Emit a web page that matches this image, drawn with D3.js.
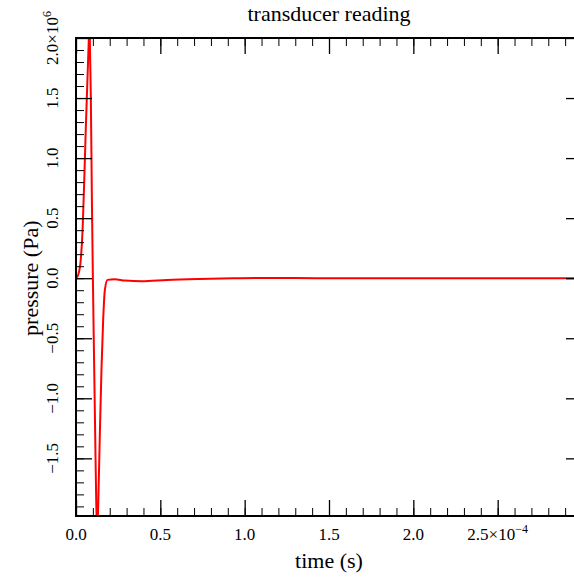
<!DOCTYPE html>
<html>
<head>
<meta charset="utf-8">
<script src="https://cdn.jsdelivr.net/npm/d3@7"></script>
<style>
  html, body { margin: 0; padding: 0; background: #fff; overflow: hidden; }
  svg { display: block; font-family: "Liberation Serif", "Times New Roman", serif; }
</style>
</head>
<body>
<div id="chart"></div>
<script>
// transducer trace, time in s, pressure in Pa
var times = [0, 1.3e-6, 2.8e-6, 3.9e-6, 4.9e-6, 5.8e-6, 6.8e-6, 7.6e-6, 7.9e-6, 8.2e-6, 8.8e-6, 9.4e-6,
             1.00e-5, 1.08e-5, 1.14e-5, 1.20e-5, 1.26e-5, 1.32e-5, 1.41e-5, 1.51e-5, 1.61e-5, 1.71e-5,
             1.87e-5, 2.3e-5, 2.9e-5, 3.9e-5, 5.4e-5, 7.3e-5, 9.3e-5, 1.1e-4, 1.3e-4, 1.52e-4, 2.0e-4, 2.5e-4, 3.0e-4];
var pressures = [0, 0.028e6, 0.15e6, 0.40e6, 0.82e6, 1.24e6, 1.66e6, 1.99e6, 2.12e6, 1.99e6, 1.51e6, 0.68e6,
                 0.01e6, -0.76e6, -1.32e6, -1.87e6, -2.1e6, -1.87e6, -1.32e6, -0.76e6, -0.35e6, -0.10e6,
                 -0.014e6, -0.008e6, -0.02e6, -0.025e6, -0.014e6, -0.006e6, -0.001e6, 0.002e6, 0.001e6, 0, 0, 0, 0];

var xDomain = [0, 3e-4];
var yDomain = [-1.98e6, 2.0e6];
var xMajorTicks = [0, 0.5e-4, 1.0e-4, 1.5e-4, 2.0e-4, 2.5e-4, 3.0e-4];
var xTickLabels = ["0.0", "0.5", "1.0", "1.5", "2.0", "2.5", ""];
var yMajorTicks = [-1.5e6, -1.0e6, -0.5e6, 0, 0.5e6, 1.0e6, 1.5e6, 2.0e6];
var yTickLabels = ["\u22121.5", "\u22121.0", "\u22120.5", "0.0", "0.5", "1.0", "1.5", "2.0"];
var xMinorTicks = d3.range(0, 31).map(function(i){ return i * 1e-5; });
var yMinorTicks = d3.range(-19, 21).map(function(i){ return i * 1e5; });

var width = 574, height = 577;
var pLeft = 76, pRight = 582, pTop = 38, pBottom = 516;

var svg = d3.select("#chart").append("svg")
    .attr("width", width)
    .attr("height", height);

svg.append("rect").attr("width", width).attr("height", height).attr("fill", "#fff");

var x = d3.scaleLinear().domain(xDomain).range([pLeft, pRight]);
var y = d3.scaleLinear().domain(yDomain).range([pBottom, pTop]);

svg.append("clipPath").attr("id", "plotclip")
  .append("rect")
    .attr("x", pLeft).attr("y", pTop)
    .attr("width", pRight - pLeft).attr("height", pBottom - pTop);

// data line
var data = times.map(function(t, i){ return {t: t, p: pressures[i]}; });
var line = d3.line()
    .x(function(d){ return x(d.t); })
    .y(function(d){ return y(d.p); })
    .curve(d3.curveMonotoneX);

svg.append("path")
    .datum(data)
    .attr("clip-path", "url(#plotclip)")
    .attr("d", line)
    .attr("fill", "none")
    .attr("stroke", "#ff0000")
    .attr("stroke-width", 2);

// ticks, all pointing inward
function addTicks(axis, tx, ty, vals, size, w) {
  var g = svg.append("g")
      .attr("transform", "translate(" + tx + "," + ty + ")")
      .call(axis.tickValues(vals).tickSize(-size).tickFormat(""));
  g.select(".domain").remove();
  g.selectAll(".tick line").attr("stroke", "#000").attr("stroke-width", w);
  g.selectAll(".tick text").remove();
  return g;
}

addTicks(d3.axisBottom(x), 0, pBottom, xMinorTicks, 8, 1);
addTicks(d3.axisBottom(x), 0, pBottom, xMajorTicks, 16, 1.3);
addTicks(d3.axisTop(x), 0, pTop, xMinorTicks, 8, 1);
addTicks(d3.axisTop(x), 0, pTop, xMajorTicks, 16, 1.3);
addTicks(d3.axisLeft(y), pLeft, 0, yMinorTicks, 8, 1);
addTicks(d3.axisLeft(y), pLeft, 0, yMajorTicks, 16, 1.3);
addTicks(d3.axisRight(y), pRight, 0, yMinorTicks, 8, 1);
addTicks(d3.axisRight(y), pRight, 0, yMajorTicks, 16, 1.3);

// frame
svg.append("rect")
    .attr("x", pLeft).attr("y", pTop)
    .attr("width", pRight - pLeft).attr("height", pBottom - pTop)
    .attr("fill", "none")
    .attr("stroke", "#000")
    .attr("stroke-width", 2);

// x tick labels
var xl = svg.append("g").selectAll("text")
  .data(xMajorTicks)
  .enter().append("text")
    .attr("x", function(d){ return x(d); })
    .attr("y", 540)
    .attr("text-anchor", "middle")
    .style("font-size", "17px");
xl.each(function(d, i){
  var t = d3.select(this);
  t.append("tspan").text(xTickLabels[i]);
  if (i === 5) {
    t.append("tspan").text("\u00d710");
    t.append("tspan").attr("dy", -7).style("font-size", "12px").text("\u22124");
  }
});

// y tick labels, rotated
var yl = svg.append("g").selectAll("text")
  .data(yMajorTicks)
  .enter().append("text")
    .attr("transform", function(d){ return "translate(58," + y(d) + ") rotate(-90)"; })
    .attr("text-anchor", "middle")
    .style("font-size", "17px");
yl.each(function(d, i){
  var t = d3.select(this);
  t.append("tspan").text(yTickLabels[i]);
  if (i === yMajorTicks.length - 1) {
    t.append("tspan").text("\u00d710");
    t.append("tspan").attr("dy", -7).style("font-size", "12px").text("6");
  }
});

// titles
svg.append("text")
    .attr("x", (pLeft + pRight) / 2)
    .attr("y", 21)
    .attr("text-anchor", "middle")
    .style("font-size", "22px")
    .text("transducer reading");

svg.append("text")
    .attr("x", (pLeft + pRight) / 2)
    .attr("y", 568)
    .attr("text-anchor", "middle")
    .style("font-size", "22px")
    .text("time (s)");

svg.append("text")
    .attr("transform", "translate(38," + y(0) + ") rotate(-90)")
    .attr("text-anchor", "middle")
    .style("font-size", "22px")
    .text("pressure (Pa)");
</script>
</body>
</html>
